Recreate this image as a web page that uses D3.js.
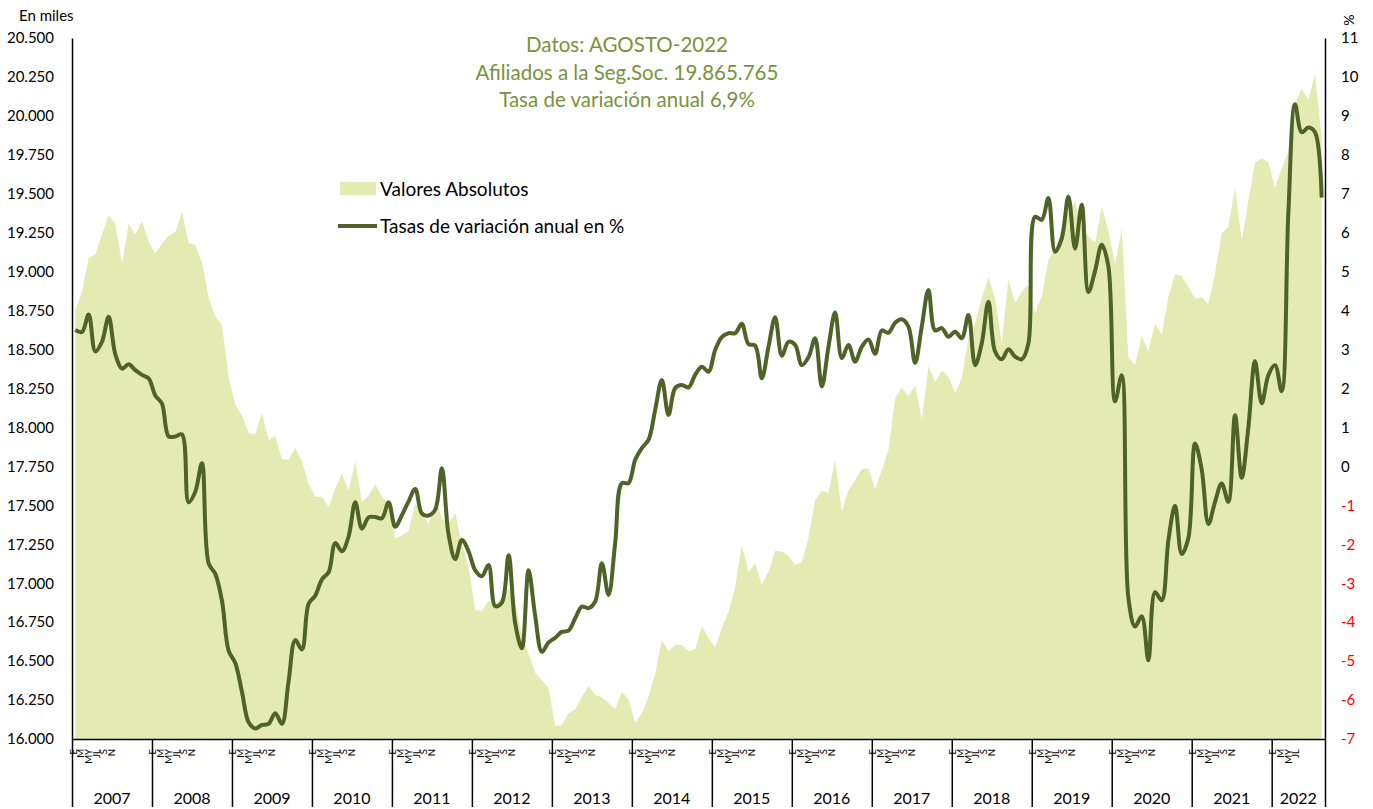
<!DOCTYPE html>
<html lang="es">
<head>
<meta charset="utf-8">
<script src="https://cdn.jsdelivr.net/npm/d3@7"></script>
<style>
  body { margin: 0; background: #fff; }
  svg { font-family: Lato, "Open Sans", sans-serif; }
</style>
</head>
<body>
<div id="grafico"></div>
<script>
// Años y etiquetas de meses del eje de categorías
const anios = [2007, 2008, 2009, 2010, 2011, 2012, 2013, 2014, 2015, 2016, 2017, 2018, 2019, 2020, 2021, 2022];
const etiquetasMes = ["E", "M", "MY", "JL", "S", "N"];

// Afiliados (en miles), enero 2007 - agosto 2022
const afiliados = [
  18757, 18871, 19089, 19112, 19238, 19360, 19307, 19055, 19307, 19238, 19323, 19192, // 2007
  19116, 19180, 19231, 19254, 19383, 19185, 19169, 19055, 18837, 18711, 18658, 18321, // 2008
  18149, 18075, 17965, 17954, 18092, 17920, 17947, 17794, 17794, 17869, 17782, 17640, // 2009
  17555, 17555, 17490, 17610, 17702, 17593, 17787, 17520, 17563, 17636, 17556, 17507, // 2010
  17288, 17306, 17337, 17507, 17459, 17374, 17532, 17420, 17380, 17450, 17250, 17107, // 2011
  16828, 16820, 16888, 16864, 16912, 16972, 16870, 16669, 16547, 16426, 16377, 16328, // 2012
  16083, 16090, 16165, 16191, 16272, 16340, 16282, 16268, 16233, 16191, 16304, 16255, // 2013
  16105, 16165, 16272, 16422, 16636, 16561, 16604, 16604, 16565, 16574, 16725, 16646, // 2014
  16589, 16711, 16818, 16978, 17245, 17074, 17128, 16989, 17074, 17207, 17203, 17175, // 2015
  17117, 17137, 17290, 17534, 17594, 17577, 17796, 17459, 17598, 17663, 17731, 17738, // 2016
  17603, 17727, 17855, 18187, 18258, 18198, 18273, 18048, 18395, 18288, 18365, 18326, // 2017
  18219, 18316, 18573, 18669, 18829, 18964, 18829, 18544, 18951, 18797, 18872, 18915, // 2018
  18737, 18840, 19075, 19150, 19279, 19380, 19450, 19276, 19225, 19186, 19418, 19263, // 2019
  19044, 19276, 18451, 18400, 18585, 18490, 18670, 18593, 18838, 18985, 18972, 18902, // 2020
  18825, 18838, 18791, 18992, 19245, 19289, 19539, 19199, 19456, 19702, 19727, 19702, // 2021
  19539, 19663, 19771, 20088, 20174, 20101, 20269, 19866                              // 2022
];

// Tasa de variación anual (%)
const tasas = [
  3.50, 3.45, 3.90, 2.95, 3.20, 3.84, 2.88, 2.51, 2.62, 2.47, 2.35, 2.26,
  1.82, 1.61, 0.77, 0.77, 0.82, -0.92, -0.65, 0.08, -2.49, -2.76, -3.45, -4.73,
  -5.05, -5.79, -6.57, -6.73, -6.64, -6.61, -6.34, -6.61, -5.51, -4.46, -4.70, -3.53,
  -3.32, -2.90, -2.72, -1.97, -2.18, -1.80, -0.92, -1.60, -1.31, -1.30, -1.33, -0.92,
  -1.55, -1.25, -0.90, -0.58, -1.21, -1.26, -1.11, -0.05, -1.75, -2.38, -1.89, -2.18,
  -2.67, -2.82, -2.53, -3.59, -3.50, -2.28, -4.03, -4.67, -2.67, -3.84, -4.76, -4.52,
  -4.40, -4.25, -4.22, -3.90, -3.60, -3.64, -3.47, -2.49, -3.30, -1.97, -0.43, -0.43,
  0.17, 0.47, 0.68, 1.45, 2.22, 1.32, 2.01, 2.09, 2.03, 2.35, 2.56, 2.43,
  2.99, 3.32, 3.42, 3.42, 3.66, 3.14, 3.10, 2.26, 3.07, 3.83, 2.84, 3.20,
  3.12, 2.60, 2.80, 3.29, 2.05, 3.07, 3.95, 2.78, 3.12, 2.69, 3.07, 3.26,
  2.89, 3.49, 3.43, 3.69, 3.78, 3.59, 2.66, 3.59, 4.53, 3.49, 3.55, 3.33,
  3.46, 3.29, 3.89, 2.60, 3.16, 4.23, 2.95, 2.75, 3.01, 2.82, 2.75, 3.16,
  6.41, 6.33, 6.89, 5.51, 5.85, 6.93, 5.59, 6.72, 4.48, 5.02, 5.69, 5.13,
  1.67, 2.34, -3.38, -4.11, -3.85, -4.98, -3.23, -3.44, -1.90, -1.01, -2.25, -1.84,
  0.59, -0.08, -1.48, -0.91, -0.44, -0.91, 1.31, -0.29, 1.00, 2.70, 1.62, 2.34,
  2.60, 1.93, 6.50, 9.30, 8.58, 8.70, 8.58, 6.90
];

const ticksIzq = [16000, 16250, 16500, 16750, 17000, 17250, 17500, 17750, 18000, 18250,
                  18500, 18750, 19000, 19250, 19500, 19750, 20000, 20250, 20500];
const ticksDer = d3.range(-7, 12);
const titulo = ["Datos: AGOSTO-2022", "Afiliados a la Seg.Soc. 19.865.765", "Tasa de variación anual 6,9%"];

const ancho = 1373, alto = 809;
const izq = 72, der = 1325, arriba = 38, abajo = 739;
const verdeArea = "#e4ebb2", verdeLinea = "#4f6228", verdeTitulo = "#77933c";

const es = d3.formatLocale({decimal: ",", thousands: ".", grouping: [3], currency: ["", "€"]});
const fmtMiles = es.format(",.0f");

const svg = d3.select("#grafico").append("svg")
  .attr("width", ancho)
  .attr("height", alto);

// Escalas
const x = d3.scaleLinear().domain([0, afiliados.length]).range([izq, der]);
const yIzq = d3.scaleLinear().domain([16000, 20500]).range([abajo, arriba]);
const yDer = d3.scaleLinear().domain([-7, 11]).range([abajo, arriba]);

// Área de valores absolutos
svg.append("path")
  .datum(afiliados)
  .attr("fill", verdeArea)
  .attr("d", d3.area()
    .x((d, i) => x(i + 0.5))
    .y0(yIzq(16000))
    .y1(d => yIzq(d)));

// Línea de tasas (suavizada)
svg.append("path")
  .datum(tasas)
  .attr("fill", "none")
  .attr("stroke", verdeLinea)
  .attr("stroke-width", 4)
  .attr("stroke-linejoin", "round")
  .attr("d", d3.line()
    .x((d, i) => x(i + 0.5))
    .y(d => yDer(d))
    .curve(d3.curveCatmullRom.alpha(0.5)));

// Eje izquierdo
const ejeIzq = svg.append("g")
  .attr("transform", `translate(${izq},0)`)
  .call(d3.axisLeft(yIzq).tickValues(ticksIzq).tickSize(0).tickPadding(18).tickFormat(fmtMiles));
ejeIzq.select(".domain").attr("stroke", "#000").attr("stroke-width", 1.5);
ejeIzq.selectAll("text").attr("font-size", 15).attr("fill", "#000").style("font-family", "Lato");

// Eje derecho (guion simple en los negativos, como en el original)
const ejeDer = svg.append("g")
  .attr("transform", `translate(${der},0)`)
  .call(d3.axisRight(yDer).tickValues(ticksDer).tickSize(0).tickPadding(16).tickFormat(d => String(d)));
ejeDer.select(".domain").attr("stroke", "#000").attr("stroke-width", 1.5);
ejeDer.selectAll("text")
  .attr("font-size", 15)
  .style("font-family", "Lato")
  .attr("fill", d => d < 0 ? "#ff0000" : "#000");

// Eje de categorías: separadores de año
const cortes = anios.map((a, k) => k * 12).concat([afiliados.length]);
const ejeX = svg.append("g")
  .attr("transform", `translate(0,${abajo})`)
  .call(d3.axisBottom(x).tickValues(cortes).tickSize(68).tickSizeOuter(0).tickFormat(""));
ejeX.select(".domain").attr("stroke", "#000").attr("stroke-width", 1.5);
ejeX.selectAll(".tick line").attr("stroke", "#000").attr("stroke-width", 1.5);

// Etiquetas de meses (vertical) y de años
anios.forEach((a, k) => {
  const inicio = k * 12;
  const mesesAnio = Math.min(12, afiliados.length - inicio);
  const etiquetas = etiquetasMes.slice(0, Math.ceil(mesesAnio / 2));
  etiquetas.forEach((t, j) => {
    const xt = x(inicio) + 1 + j * 7.7;
    svg.append("text")
      .attr("transform", `translate(${xt},${abajo + 10}) rotate(-90)`)
      .attr("text-anchor", "end")
      .attr("dominant-baseline", "central")
      .attr("font-size", 9.5)
      .attr("fill", "#000")
      .text(t);
  });
  svg.append("text")
    .attr("x", (x(inicio) + x(inicio + mesesAnio)) / 2)
    .attr("y", 797)
    .attr("text-anchor", "middle")
    .attr("dominant-baseline", "central")
    .attr("font-size", 16)
    .attr("fill", "#000")
    .text(a);
});

// Títulos de ejes
svg.append("text")
  .attr("x", 19).attr("y", 15)
  .attr("dominant-baseline", "central")
  .attr("font-size", 15)
  .text("En miles");
svg.append("text")
  .attr("transform", "translate(1349,20) rotate(90)")
  .attr("text-anchor", "middle")
  .attr("dominant-baseline", "central")
  .attr("font-size", 14)
  .text("%");

// Título
titulo.forEach((t, i) => {
  svg.append("text")
    .attr("x", 627)
    .attr("y", 44 + i * 27.5)
    .attr("text-anchor", "middle")
    .attr("dominant-baseline", "central")
    .attr("font-size", 20.5)
    .attr("fill", verdeTitulo)
    .text(t);
});

// Leyenda
const leyenda = svg.append("g");
leyenda.append("rect")
  .attr("x", 340).attr("y", 182).attr("width", 36).attr("height", 13)
  .attr("fill", verdeArea);
leyenda.append("text")
  .attr("x", 380).attr("y", 188)
  .attr("dominant-baseline", "central")
  .attr("font-size", 19)
  .text("Valores Absolutos");
leyenda.append("line")
  .attr("x1", 338).attr("x2", 377).attr("y1", 226).attr("y2", 226)
  .attr("stroke", verdeLinea).attr("stroke-width", 4);
leyenda.append("text")
  .attr("x", 380).attr("y", 225)
  .attr("dominant-baseline", "central")
  .attr("font-size", 19)
  .text("Tasas de variación anual en %");
</script>
</body>
</html>
